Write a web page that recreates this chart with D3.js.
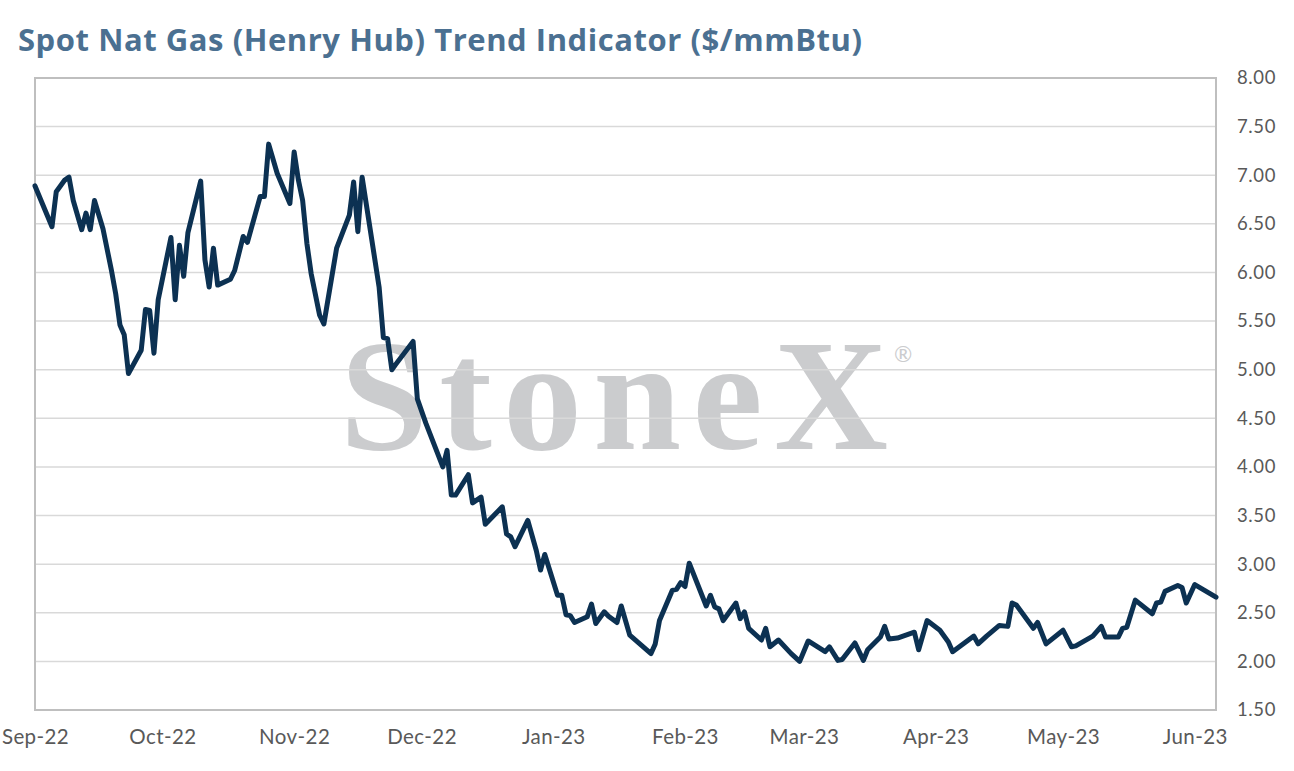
<!DOCTYPE html>
<html>
<head>
<meta charset="utf-8">
<script src="https://cdn.jsdelivr.net/npm/d3@7"></script>
<style>
  body { margin: 0; background: #fff; }
  svg { display: block; }
</style>
</head>
<body>
<svg id="chart"></svg>
<script>
(function(){

    var W = 1294, H = 771;
    var margin = {top: 78, right: 78, bottom: 61, left: 35};
    var width = W - margin.left - margin.right;
    var height = H - margin.top - margin.bottom;

    // spot price readings, $/mmBtu
    const dates = [
        "2022-09-01","2022-09-05","2022-09-06","2022-09-08","2022-09-09","2022-09-10","2022-09-12","2022-09-13","2022-09-14","2022-09-15",
        "2022-09-17","2022-09-19","2022-09-20","2022-09-21","2022-09-22","2022-09-23","2022-09-26","2022-09-27","2022-09-28","2022-09-29",
        "2022-09-30","2022-10-03","2022-10-04","2022-10-05","2022-10-06","2022-10-07","2022-10-10","2022-10-11","2022-10-12","2022-10-13",
        "2022-10-14","2022-10-17","2022-10-18","2022-10-20","2022-10-21","2022-10-24","2022-10-25","2022-10-26","2022-10-28","2022-10-31",
        "2022-11-01","2022-11-02","2022-11-03","2022-11-04","2022-11-05","2022-11-07","2022-11-08","2022-11-11","2022-11-14","2022-11-15",
        "2022-11-16","2022-11-17","2022-11-21","2022-11-22","2022-11-23","2022-11-24","2022-11-25","2022-11-29","2022-11-30","2022-12-02",
        "2022-12-06","2022-12-07","2022-12-08","2022-12-09","2022-12-12","2022-12-13","2022-12-15","2022-12-16","2022-12-20","2022-12-21",
        "2022-12-22","2022-12-23","2022-12-26","2022-12-28","2022-12-29","2022-12-30","2023-01-02","2023-01-03","2023-01-04","2023-01-05",
        "2023-01-06","2023-01-09","2023-01-10","2023-01-11","2023-01-13","2023-01-14","2023-01-16","2023-01-17","2023-01-19","2023-01-24",
        "2023-01-25","2023-01-26","2023-01-29","2023-01-30","2023-01-31","2023-02-01","2023-02-02","2023-02-06","2023-02-07","2023-02-08",
        "2023-02-09","2023-02-10","2023-02-13","2023-02-14","2023-02-15","2023-02-16","2023-02-19","2023-02-20","2023-02-21","2023-02-23",
        "2023-02-26","2023-02-28","2023-03-02","2023-03-06","2023-03-07","2023-03-09","2023-03-10","2023-03-13","2023-03-15","2023-03-16",
        "2023-03-19","2023-03-20","2023-03-21","2023-03-23","2023-03-27","2023-03-28","2023-03-30","2023-04-02","2023-04-04","2023-04-05",
        "2023-04-10","2023-04-11","2023-04-13","2023-04-16","2023-04-18","2023-04-19","2023-04-20","2023-04-24","2023-04-25","2023-04-27",
        "2023-05-01","2023-05-03","2023-05-04","2023-05-08","2023-05-10","2023-05-11","2023-05-14","2023-05-15","2023-05-16","2023-05-18",
        "2023-05-22","2023-05-23","2023-05-24","2023-05-25","2023-05-28","2023-05-29","2023-05-30","2023-06-01","2023-06-06"
    ];
    const prices = [
        6.89, 6.47, 6.83, 6.95, 6.98, 6.74, 6.44, 6.61, 6.44, 6.74,
        6.45, 6.02, 5.78, 5.46, 5.36, 4.96, 5.20, 5.62, 5.61, 5.17,
        5.72, 6.36, 5.72, 6.28, 5.96, 6.41, 6.94, 6.13, 5.85, 6.25,
        5.87, 5.93, 6.02, 6.37, 6.31, 6.78, 6.78, 7.32, 7.02, 6.71,
        7.24, 6.95, 6.74, 6.30, 5.99, 5.56, 5.47, 6.25, 6.59, 6.93,
        6.42, 6.98, 5.85, 5.33, 5.32, 5.00, 5.06, 5.29, 4.70, 4.45,
        4.00, 4.17, 3.71, 3.71, 3.92, 3.63, 3.69, 3.41, 3.59, 3.31,
        3.28, 3.18, 3.45, 3.14, 2.94, 3.10, 2.68, 2.68, 2.48, 2.47,
        2.40, 2.46, 2.59, 2.39, 2.51, 2.465, 2.40, 2.57, 2.27, 2.08,
        2.18, 2.42, 2.73, 2.74, 2.81, 2.77, 3.01, 2.57, 2.68, 2.56,
        2.54, 2.42, 2.60, 2.44, 2.51, 2.34, 2.22, 2.34, 2.15, 2.22,
        2.08, 2.00, 2.21, 2.10, 2.15, 2.01, 2.02, 2.19, 2.01, 2.12,
        2.25, 2.36, 2.23, 2.24, 2.30, 2.12, 2.42, 2.32, 2.20, 2.10,
        2.26, 2.18, 2.26, 2.37, 2.36, 2.60, 2.58, 2.34, 2.40, 2.18,
        2.32, 2.15, 2.16, 2.26, 2.36, 2.25, 2.25, 2.34, 2.35, 2.63,
        2.49, 2.60, 2.61, 2.72, 2.78, 2.76, 2.60, 2.79, 2.66
    ];
    const yTicks = [1.5, 2, 2.5, 3, 3.5, 4, 4.5, 5, 5.5, 6, 6.5, 7, 7.5, 8];
    const xStart = "2022-09-01", xEnd = "2023-06-06";

    var parse = d3.timeParse("%Y-%m-%d");
    var data = dates.map((d, i) => ({date: parse(d), value: prices[i]}));

    var svg = d3.select("#chart")
        .attr("width", W)
        .attr("height", H)
        .style("font-family", "Lato, 'Open Sans', sans-serif");

    svg.append("text")
        .attr("x", 18)
        .attr("y", 51)
        .attr("font-family", "'Open Sans', Lato, sans-serif")
        .attr("font-size", "31px")
        .attr("font-weight", "bold")
        .attr("fill", "#4b7091")
        .attr("textLength", 844)
        .attr("lengthAdjust", "spacing")
        .text("Spot Nat Gas (Henry Hub) Trend Indicator ($/mmBtu)");

    var g = svg.append("g")
        .attr("transform", "translate(" + margin.left + "," + margin.top + ")");

    var xScale = d3.scaleTime()
        .domain([parse(xStart), parse(xEnd)])
        .range([0, width]);

    var yScale = d3.scaleLinear()
        .domain([1.5, 8])
        .range([height, 0]);

    // watermark
    var wm = g.append("g").attr("class", "watermark");
    wm.append("text")
        .attr("x", 305)
        .attr("y", 371)
        .attr("font-family", "'Liberation Serif', 'DejaVu Serif', serif")
        .attr("font-weight", "bold")
        .attr("font-size", "158px")
        .attr("fill", "#cbccce")
        .attr("textLength", 548)
        .attr("lengthAdjust", "spacing")
        .text("StoneX");
    wm.append("text")
        .attr("x", 859)
        .attr("y", 284)
        .attr("font-size", "22px")
        .attr("fill", "#cbccce")
        .text("\u00AE");

    // gridlines
    g.append("g")
        .selectAll("line")
        .data(yTicks)
        .enter()
        .append("line")
            .attr("x1", 0)
            .attr("x2", width)
            .attr("y1", d => yScale(d))
            .attr("y2", d => yScale(d))
            .attr("stroke", "#d9d9d9")
            .attr("stroke-width", 1.5);

    g.append("rect")
        .attr("width", width)
        .attr("height", height)
        .attr("fill", "none")
        .attr("stroke", "#bfbfbf")
        .attr("stroke-width", 2);

    // y axis on the right
    var yAxis = g.append("g")
        .attr("transform", "translate(" + width + ",0)")
        .call(d3.axisRight(yScale).tickValues(yTicks).tickSize(0).tickPadding(21).tickFormat(d3.format(".2f")));
    yAxis.select(".domain").remove();
    yAxis.selectAll("text")
        .attr("font-family", "Lato, 'Open Sans', sans-serif")
        .attr("font-size", "18.5px")
        .attr("letter-spacing", "0.6px")
        .attr("fill", "#595959");

    // x axis, month starts
    var months = d3.timeMonth.range(parse(xStart), parse(xEnd));
    var xAxis = g.append("g")
        .attr("transform", "translate(0," + height + ")")
        .call(d3.axisBottom(xScale).tickValues(months).tickSize(0).tickPadding(19).tickFormat(d3.timeFormat("%b-%y")));
    xAxis.select(".domain").remove();
    xAxis.selectAll("text")
        .attr("font-family", "Lato, 'Open Sans', sans-serif")
        .attr("font-size", "20.5px")
        .attr("letter-spacing", "0.4px")
        .attr("fill", "#595959");

    var line = d3.line()
        .x(d => xScale(d.date))
        .y(d => yScale(d.value));

    g.append("path")
        .datum(data)
        .attr("d", line)
        .attr("fill", "none")
        .attr("stroke", "#0c3152")
        .attr("stroke-width", 5)
        .attr("stroke-linejoin", "round")
        .attr("stroke-linecap", "round");

})()
</script>
</body>
</html>
